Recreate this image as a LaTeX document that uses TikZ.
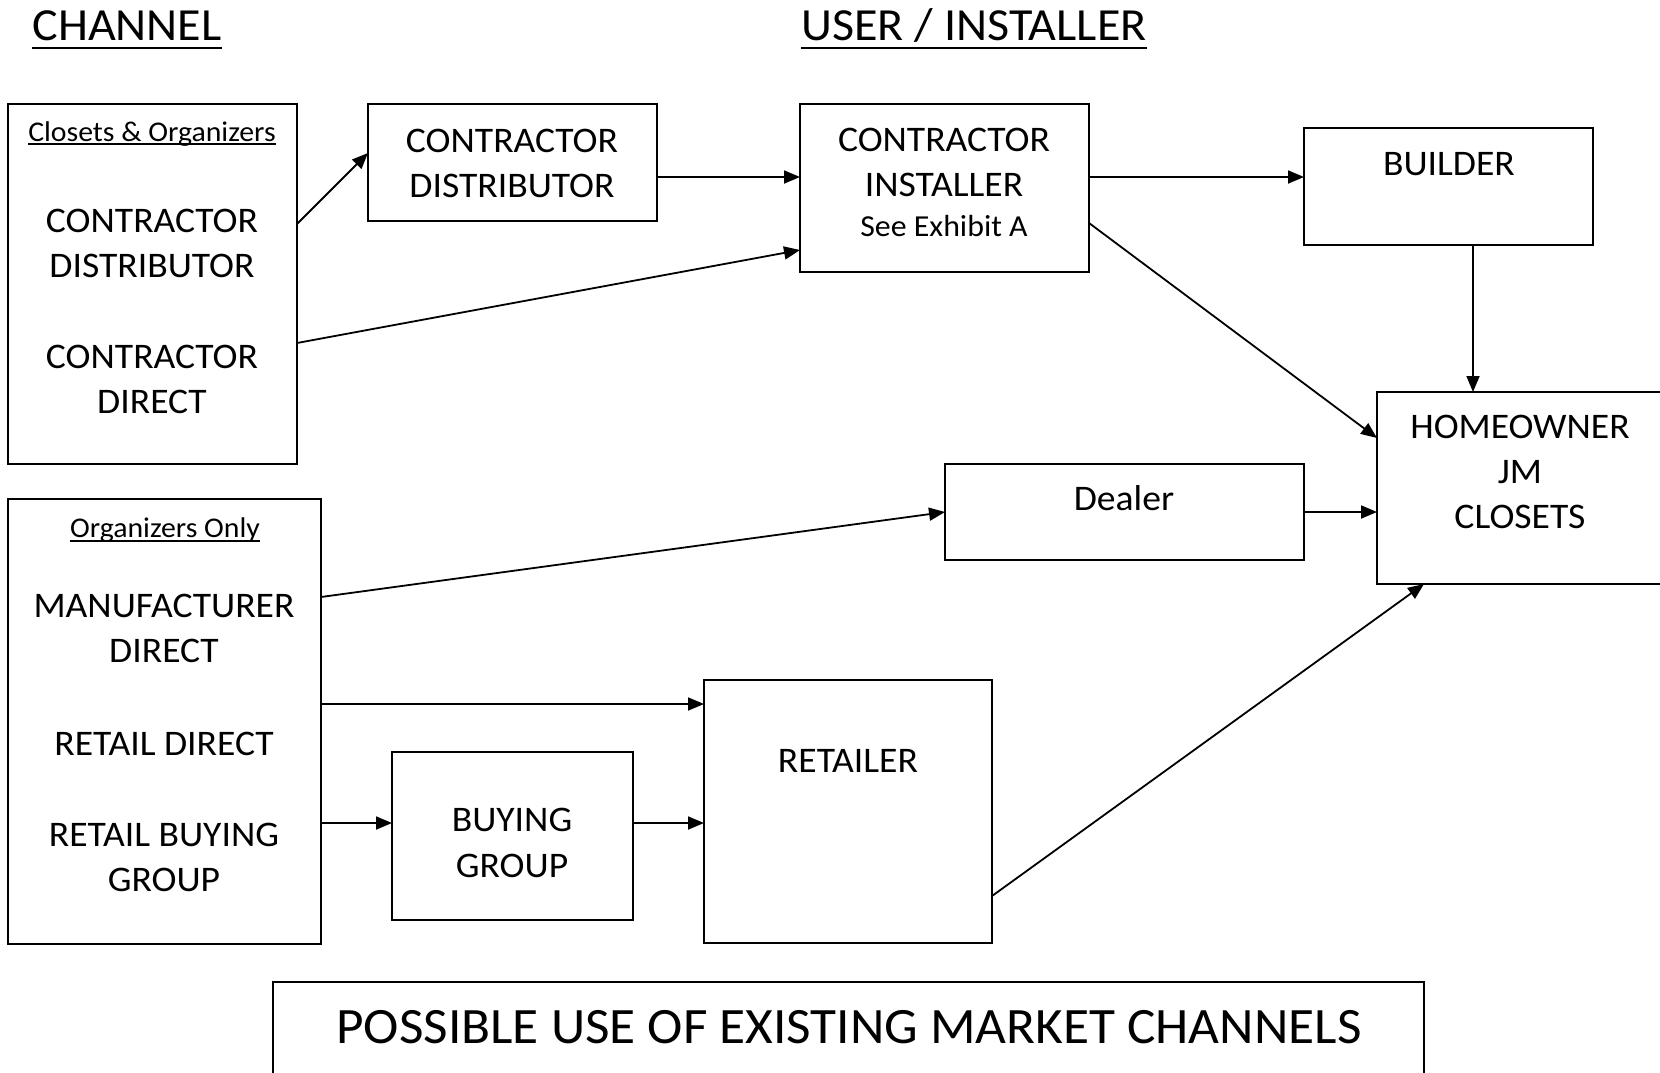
\documentclass[tikz,border=0pt]{standalone}
\usepackage{fontspec}
\setmainfont[FakeStretch=1.045]{Carlito}
\usetikzlibrary{arrows.meta,calc}
\begin{document}
\begin{tikzpicture}[x=1pt,y=-1pt,
 box/.style={draw, line width=1.8pt, inner sep=0pt, outer sep=0pt},
 lbl/.style={anchor=base, inner sep=0pt, font=\fontsize{36}{44}\selectfont},
 sml/.style={anchor=base, inner sep=0pt, font=\fontsize{28.5}{35}\selectfont},
 ttl/.style={anchor=base, inner sep=0pt, font=\fontsize{46}{55}\selectfont},
 big/.style={anchor=base, inner sep=0pt, font=\fontsize{51}{60}\selectfont},
 arr/.style={line width=1.8pt, -{Triangle[length=16pt,width=13pt]}},
 ulbig/.style={line width=2.5pt},
 ulsml/.style={line width=1.5pt}]
\useasboundingbox (0,0) rectangle (1660,1073);
\clip (0,0) rectangle (1660,1073);

% titles
\node[ttl] (tchan) at (127,41) {CHANNEL};
\node[ttl] (tuser) at (974,41) {USER / INSTALLER};
\draw[ulbig] ($(tchan.base west)+(0,7)$) -- ($(tchan.base east)+(0,7)$);
\draw[ulbig] ($(tuser.base west)+(0,7)$) -- ($(tuser.base east)+(0,7)$);

% boxes
\node[box, minimum width=289pt, minimum height=360pt] (chA) at (152.5,284) {};
\node[box, minimum width=289pt, minimum height=117pt] (cdb) at (512.5,162.5) {};
\node[box, minimum width=289pt, minimum height=168pt] (ci) at (944.5,188) {};
\node[box, minimum width=289pt, minimum height=117pt] (bld) at (1448.5,186.5) {};
\node[box, minimum width=287pt, minimum height=192pt] (ho) at (1520.5,488) {};
\node[box, minimum width=359pt, minimum height=96pt] (dlr) at (1124.5,512) {};
\node[box, minimum width=313pt, minimum height=445pt] (chB) at (164.5,721.5) {};
\node[box, minimum width=241pt, minimum height=168pt] (bg) at (512.5,836) {};
\node[box, minimum width=288pt, minimum height=263pt] (rt) at (848,811.5) {};
\node[box, minimum width=1151pt, minimum height=108pt] (tb) at (848.5,1036) {};

% texts in box A
\node[sml] (tclo) at (152,141) {Closets \& Organizers};
\draw[ulsml] ($(tclo.base west)+(0,3)$) -- ($(tclo.base east)+(0,3)$);
\node[lbl] (a1) at (152,232) {CONTRACTOR};
\node[lbl] (a2) at (152,277) {DISTRIBUTOR};
\node[lbl] (a3) at (152,368) {CONTRACTOR};
\node[lbl] (a4) at (152,413) {DIRECT};

% contractor distributor
\node[lbl] (c1) at (512,152) {CONTRACTOR};
\node[lbl] (c2) at (512,197) {DISTRIBUTOR};

% contractor installer
\node[lbl] (i1) at (944,151) {CONTRACTOR};
\node[lbl] (i2) at (944,196) {INSTALLER};
\node[sml, font=\fontsize{30.5}{36}\selectfont] (i3) at (944,236) {See Exhibit A};

% builder
\node[lbl] (b1) at (1449,175) {BUILDER};

% homeowner
\node[lbl] (h1) at (1520,438) {HOMEOWNER};
\node[lbl] (h2) at (1520,483) {JM};
\node[lbl] (h3) at (1520,528) {CLOSETS};

% dealer
\node[lbl] (d1) at (1124,510) {Dealer};

% box B
\node[sml] (torg) at (165,537) {Organizers Only};
\draw[ulsml] ($(torg.base west)+(0,4)$) -- ($(torg.base east)+(0,4)$);
\node[lbl] (m1) at (164,617) {MANUFACTURER};
\node[lbl] (m2) at (164,662) {DIRECT};
\node[lbl] (m3) at (164,755) {RETAIL DIRECT};
\node[lbl] (m4) at (164,846) {RETAIL BUYING};
\node[lbl] (m5) at (164,891) {GROUP};

% buying group
\node[lbl] (g1) at (512,831) {BUYING};
\node[lbl] (g2) at (512,877) {GROUP};

% retailer
\node[lbl] (r1) at (848,772) {RETAILER};

% bottom title
\node[big] (bt) at (849,1043) {POSSIBLE USE OF EXISTING MARKET CHANNELS};

% arrows
\draw[arr] ($(chA.north east)+(0,120)$) -- ($(cdb.north west)+(0,49)$);
\draw[arr] ($(cdb.north east)+(0,73)$) -- ($(ci.north west)+(0,73)$);
\draw[arr] ($(chA.north east)+(0,239)$) -- ($(ci.north west)+(0,146)$);
\draw[arr] ($(ci.north east)+(0,73)$) -- ($(bld.north west)+(0,49)$);
\draw[arr] ($(ci.north east)+(0,119)$) -- ($(ho.north west)+(0,46)$);
\draw[arr] ($(bld.south west)+(169,0)$) -- ($(ho.north west)+(96,0)$);
\draw[arr] (dlr.east) -- (ho.west |- dlr.east);
\draw[arr] ($(chB.north east)+(0,98)$) -- (dlr.west);
\draw[arr] ($(chB.north east)+(0,205)$) -- ($(rt.north west)+(0,24)$);
\draw[arr] ($(chB.north east)+(0,324)$) -- ($(bg.north west)+(0,71)$);
\draw[arr] ($(bg.north east)+(0,71)$) -- ($(rt.north west)+(0,143)$);
\draw[arr] ($(rt.north east)+(0,216)$) -- ($(ho.south west)+(47,0)$);
\end{tikzpicture}
\end{document}
